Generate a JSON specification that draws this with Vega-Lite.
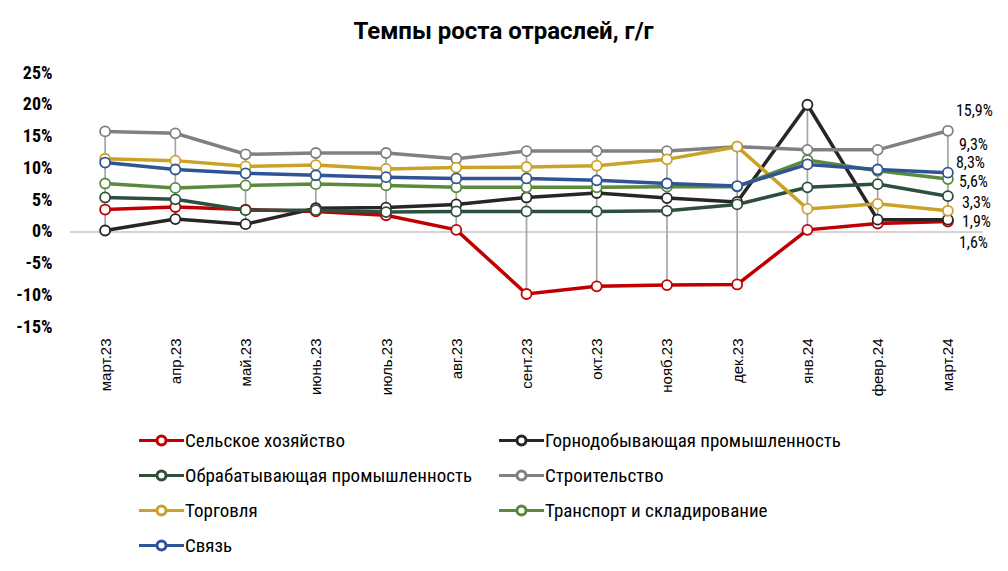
{
  "$schema": "https://vega.github.io/schema/vega-lite/v6.json",
  "width": 913,
  "height": 254,
  "autosize": {"type": "none"},
  "padding": {"left": 70, "top": 73, "right": 25, "bottom": 244},
  "config": {
    "view": {"stroke": null},
    "locale": {"number": {"decimal": ",", "thousands": " ", "grouping": [3], "currency": ["", ""], "minus": "-"}},
    "font": "Roboto Condensed, Liberation Sans Narrow, DejaVu Sans Condensed, Roboto, sans-serif",
    "axis": {"labelOverlap": false}
  },
  "title": {
    "text": "Темпы роста отраслей, г/г",
    "font": "Roboto, sans-serif",
    "fontSize": 24,
    "fontWeight": "bold",
    "color": "#000000",
    "anchor": "middle",
    "dx": -23,
    "offset": 20
  },
  "data": {
    "values": [
      {"m": "март.23", "Сельское хозяйство": 0.035, "Горнодобывающая промышленность": 0.002, "Обрабатывающая промышленность": 0.054, "Строительство": 0.158, "Торговля": 0.115, "Транспорт и складирование": 0.076, "Связь": 0.109},
      {"m": "апр.23", "Сельское хозяйство": 0.039, "Горнодобывающая промышленность": 0.020, "Обрабатывающая промышленность": 0.051, "Строительство": 0.155, "Торговля": 0.112, "Транспорт и складирование": 0.069, "Связь": 0.098},
      {"m": "май.23", "Сельское хозяйство": 0.035, "Горнодобывающая промышленность": 0.012, "Обрабатывающая промышленность": 0.034, "Строительство": 0.122, "Торговля": 0.103, "Транспорт и складирование": 0.073, "Связь": 0.092},
      {"m": "июнь.23", "Сельское хозяйство": 0.032, "Горнодобывающая промышленность": 0.037, "Обрабатывающая промышленность": 0.034, "Строительство": 0.124, "Торговля": 0.105, "Транспорт и складирование": 0.075, "Связь": 0.089},
      {"m": "июль.23", "Сельское хозяйство": 0.026, "Горнодобывающая промышленность": 0.038, "Обрабатывающая промышленность": 0.031, "Строительство": 0.124, "Торговля": 0.099, "Транспорт и складирование": 0.073, "Связь": 0.086},
      {"m": "авг.23", "Сельское хозяйство": 0.003, "Горнодобывающая промышленность": 0.043, "Обрабатывающая промышленность": 0.032, "Строительство": 0.115, "Торговля": 0.101, "Транспорт и складирование": 0.070, "Связь": 0.084},
      {"m": "сент.23", "Сельское хозяйство": -0.098, "Горнодобывающая промышленность": 0.054, "Обрабатывающая промышленность": 0.032, "Строительство": 0.127, "Торговля": 0.102, "Транспорт и складирование": 0.070, "Связь": 0.084},
      {"m": "окт.23", "Сельское хозяйство": -0.086, "Горнодобывающая промышленность": 0.061, "Обрабатывающая промышленность": 0.032, "Строительство": 0.127, "Торговля": 0.104, "Транспорт и складирование": 0.070, "Связь": 0.081},
      {"m": "нояб.23", "Сельское хозяйство": -0.084, "Горнодобывающая промышленность": 0.053, "Обрабатывающая промышленность": 0.033, "Строительство": 0.127, "Торговля": 0.114, "Транспорт и складирование": 0.071, "Связь": 0.076},
      {"m": "дек.23", "Сельское хозяйство": -0.083, "Горнодобывающая промышленность": 0.047, "Обрабатывающая промышленность": 0.043, "Строительство": 0.134, "Торговля": 0.134, "Транспорт и складирование": 0.071, "Связь": 0.072},
      {"m": "янв.24", "Сельское хозяйство": 0.003, "Горнодобывающая промышленность": 0.200, "Обрабатывающая промышленность": 0.070, "Строительство": 0.129, "Торговля": 0.036, "Транспорт и складирование": 0.113, "Связь": 0.106},
      {"m": "февр.24", "Сельское хозяйство": 0.013, "Горнодобывающая промышленность": 0.019, "Обрабатывающая промышленность": 0.075, "Строительство": 0.129, "Торговля": 0.044, "Транспорт и складирование": 0.096, "Связь": 0.098},
      {"m": "март.24", "Сельское хозяйство": 0.016, "Горнодобывающая промышленность": 0.019, "Обрабатывающая промышленность": 0.056, "Строительство": 0.159, "Торговля": 0.033, "Транспорт и складирование": 0.083, "Связь": 0.093}
    ]
  },
  "transform": [
    {"fold": ["Сельское хозяйство", "Горнодобывающая промышленность", "Обрабатывающая промышленность", "Строительство", "Торговля", "Транспорт и складирование", "Связь"], "as": ["s", "v"]}
  ],
  "layer": [
    {
      "mark": {"type": "rule", "color": "#D4D4D4", "strokeWidth": 1.5},
      "encoding": {
        "y": {"datum": 0, "type": "quantitative", "title": null}
      }
    },
    {
      "transform": [
        {"aggregate": [{"op": "min", "field": "v", "as": "lo"}, {"op": "max", "field": "v", "as": "hi"}], "groupby": ["m"]}
      ],
      "mark": {"type": "rule", "color": "#A6A6A6", "strokeWidth": 1.7},
      "encoding": {
        "x": {
          "field": "m",
          "type": "ordinal",
          "sort": ["март.23", "апр.23", "май.23", "июнь.23", "июль.23", "авг.23", "сент.23", "окт.23", "нояб.23", "дек.23", "янв.24", "февр.24", "март.24"],
          "scale": {"type": "point", "padding": 0.5},
          "axis": {
            "labelAngle": -90,
            "labelFont": "Liberation Sans, Arial, sans-serif",
            "labelFontSize": 15,
            "labelColor": "#000000",
            "labelPadding": 11,
            "ticks": false,
            "domain": false,
            "grid": false,
            "title": null
          }
        },
        "y": {"field": "lo", "type": "quantitative", "title": null},
        "y2": {"field": "hi"}
      }
    },
    {
      "mark": {"type": "line", "strokeWidth": 3.5},
      "encoding": {
        "x": {"field": "m", "type": "ordinal", "sort": ["март.23", "апр.23", "май.23", "июнь.23", "июль.23", "авг.23", "сент.23", "окт.23", "нояб.23", "дек.23", "янв.24", "февр.24", "март.24"], "title": null},
        "y": {
          "field": "v",
          "type": "quantitative",
          "title": null,
          "scale": {"domain": [-0.15, 0.25], "nice": false, "zero": false},
          "axis": {
            "values": [-0.15, -0.1, -0.05, 0, 0.05, 0.1, 0.15, 0.2, 0.25],
            "tickCount": 12,
            "format": ".0%",
            "labelOverlap": false,
            "grid": false,
            "domain": false,
            "ticks": false,
            "labelPadding": 18,
            "labelFontSize": 18,
            "labelFontWeight": "bold",
            "labelColor": "#000000",
            "title": null
          }
        },
        "color": {
          "field": "s",
          "type": "nominal",
          "scale": {
            "domain": ["Сельское хозяйство", "Горнодобывающая промышленность", "Обрабатывающая промышленность", "Строительство", "Торговля", "Транспорт и складирование", "Связь"],
            "range": ["#C00000", "#262626", "#2F4F3C", "#808080", "#C9A227", "#5B8A3C", "#2F5597"]
          },
          "legend": {
            "orient": "none",
            "legendX": 82,
            "legendY": 358,
            "columns": 2,
            "direction": "horizontal",
            "title": null,
            "padding": 0,
            "symbolType": "M-4.5,0L-0.9,0M0.9,0L4.5,0M-0.9,0A0.9,0.9 0 1,0 0.9,0A0.9,0.9 0 1,0 -0.9,0Z",
            "symbolSize": 100,
            "symbolStrokeWidth": 3,
            "symbolFillColor": "#FFFFFF",
            "labelOffset": 14,
            "labelFontSize": 19,
            "labelColor": "#000000",
            "labelLimit": 500,
            "rowPadding": 14,
            "columnPadding": 20
          }
        }
      }
    },
    {
      "mark": {"type": "point", "shape": "circle", "filled": false, "fill": "#FFFFFF", "size": 100, "strokeWidth": 1.8, "opacity": 1},
      "encoding": {
        "x": {"field": "m", "type": "ordinal", "sort": ["март.23", "апр.23", "май.23", "июнь.23", "июль.23", "авг.23", "сент.23", "окт.23", "нояб.23", "дек.23", "янв.24", "февр.24", "март.24"], "title": null},
        "y": {"field": "v", "type": "quantitative", "title": null},
        "color": {"field": "s", "type": "nominal"}
      }
    },
    {
      "transform": [{"filter": "datum.m == 'март.24' && datum.s == 'Строительство'"}],
      "mark": {"type": "text", "align": "left", "baseline": "middle", "dx": 8, "dy": -20, "fontSize": 16, "color": "#000000"},
      "encoding": {
        "x": {"field": "m", "type": "ordinal", "sort": ["март.23", "апр.23", "май.23", "июнь.23", "июль.23", "авг.23", "сент.23", "окт.23", "нояб.23", "дек.23", "янв.24", "февр.24", "март.24"], "title": null},
        "y": {"field": "v", "type": "quantitative", "title": null},
        "text": {"field": "v", "type": "quantitative", "format": ".1%"}
      }
    },
    {
      "transform": [{"filter": "datum.m == 'март.24' && datum.s == 'Связь'"}],
      "mark": {"type": "text", "align": "left", "baseline": "middle", "dx": 11, "dy": -28, "fontSize": 16, "color": "#000000"},
      "encoding": {
        "x": {"field": "m", "type": "ordinal", "sort": ["март.23", "апр.23", "май.23", "июнь.23", "июль.23", "авг.23", "сент.23", "окт.23", "нояб.23", "дек.23", "янв.24", "февр.24", "март.24"], "title": null},
        "y": {"field": "v", "type": "quantitative", "title": null},
        "text": {"field": "v", "type": "quantitative", "format": ".1%"}
      }
    },
    {
      "transform": [{"filter": "datum.m == 'март.24' && datum.s == 'Транспорт и складирование'"}],
      "mark": {"type": "text", "align": "left", "baseline": "middle", "dx": 8, "dy": -16, "fontSize": 16, "color": "#000000"},
      "encoding": {
        "x": {"field": "m", "type": "ordinal", "sort": ["март.23", "апр.23", "май.23", "июнь.23", "июль.23", "авг.23", "сент.23", "окт.23", "нояб.23", "дек.23", "янв.24", "февр.24", "март.24"], "title": null},
        "y": {"field": "v", "type": "quantitative", "title": null},
        "text": {"field": "v", "type": "quantitative", "format": ".1%"}
      }
    },
    {
      "transform": [{"filter": "datum.m == 'март.24' && datum.s == 'Обрабатывающая промышленность'"}],
      "mark": {"type": "text", "align": "left", "baseline": "middle", "dx": 11, "dy": -14, "fontSize": 16, "color": "#000000"},
      "encoding": {
        "x": {"field": "m", "type": "ordinal", "sort": ["март.23", "апр.23", "май.23", "июнь.23", "июль.23", "авг.23", "сент.23", "окт.23", "нояб.23", "дек.23", "янв.24", "февр.24", "март.24"], "title": null},
        "y": {"field": "v", "type": "quantitative", "title": null},
        "text": {"field": "v", "type": "quantitative", "format": ".1%"}
      }
    },
    {
      "transform": [{"filter": "datum.m == 'март.24' && datum.s == 'Торговля'"}],
      "mark": {"type": "text", "align": "left", "baseline": "middle", "dx": 14, "dy": -8, "fontSize": 16, "color": "#000000"},
      "encoding": {
        "x": {"field": "m", "type": "ordinal", "sort": ["март.23", "апр.23", "май.23", "июнь.23", "июль.23", "авг.23", "сент.23", "окт.23", "нояб.23", "дек.23", "янв.24", "февр.24", "март.24"], "title": null},
        "y": {"field": "v", "type": "quantitative", "title": null},
        "text": {"field": "v", "type": "quantitative", "format": ".1%"}
      }
    },
    {
      "transform": [{"filter": "datum.m == 'март.24' && datum.s == 'Горнодобывающая промышленность'"}],
      "mark": {"type": "text", "align": "left", "baseline": "middle", "dx": 14, "dy": 2, "fontSize": 16, "color": "#000000"},
      "encoding": {
        "x": {"field": "m", "type": "ordinal", "sort": ["март.23", "апр.23", "май.23", "июнь.23", "июль.23", "авг.23", "сент.23", "окт.23", "нояб.23", "дек.23", "янв.24", "февр.24", "март.24"], "title": null},
        "y": {"field": "v", "type": "quantitative", "title": null},
        "text": {"field": "v", "type": "quantitative", "format": ".1%"}
      }
    },
    {
      "transform": [{"filter": "datum.m == 'март.24' && datum.s == 'Сельское хозяйство'"}],
      "mark": {"type": "text", "align": "left", "baseline": "middle", "dx": 11, "dy": 21, "fontSize": 16, "color": "#000000"},
      "encoding": {
        "x": {"field": "m", "type": "ordinal", "sort": ["март.23", "апр.23", "май.23", "июнь.23", "июль.23", "авг.23", "сент.23", "окт.23", "нояб.23", "дек.23", "янв.24", "февр.24", "март.24"], "title": null},
        "y": {"field": "v", "type": "quantitative", "title": null},
        "text": {"field": "v", "type": "quantitative", "format": ".1%"}
      }
    }
  ]
}
